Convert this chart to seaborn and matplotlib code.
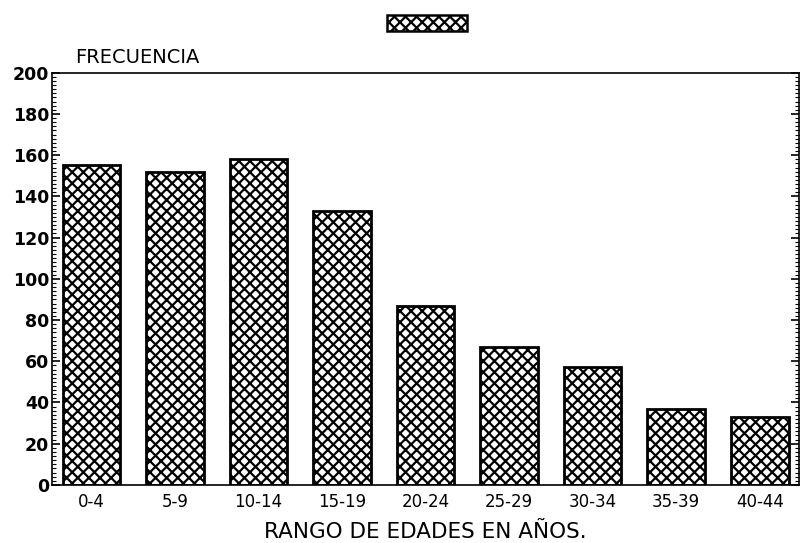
import matplotlib
matplotlib.use("Agg")
import matplotlib.pyplot as plt
import seaborn as sns
import pandas as pd
from matplotlib.patches import Patch
from matplotlib.ticker import MultipleLocator

rangos = ["0-4", "5-9", "10-14", "15-19", "20-24", "25-29", "30-34", "35-39", "40-44"]
frecuencia = [155, 152, 158, 133, 87, 67, 57, 37, 33]

df = pd.DataFrame({"rango": rangos, "frecuencia": frecuencia})

sns.set_style("white")
plt.rcParams["font.family"] = ["DejaVu Sans"]
plt.rcParams["hatch.linewidth"] = 1.6
plt.rcParams["text.color"] = "black"
plt.rcParams["xtick.color"] = "black"
plt.rcParams["ytick.color"] = "black"
plt.rcParams["axes.labelcolor"] = "black"

fig = plt.figure(figsize=(8.01, 5.43), dpi=100)
ax = fig.add_axes([0.065, 0.107, 0.9325, 0.759])

sns.barplot(data=df, x="rango", y="frecuencia", color="white", width=0.69,
            edgecolor="black", linewidth=2.0, hatch="xxx", ax=ax)

ax.set_ylim(0, 200)
ax.set_xlim(-0.47, 8.47)
ax.yaxis.set_major_locator(MultipleLocator(20))
ax.yaxis.set_minor_locator(MultipleLocator(2))
ax.tick_params(axis="y", which="major", direction="in", length=6, width=1.2,
               labelsize=12.5, right=True, left=True, pad=2)
ax.tick_params(axis="y", which="minor", direction="in", length=3, width=0.8,
               right=True, left=True)
ax.tick_params(axis="x", length=0, labelsize=12, pad=6)
for lab in ax.get_yticklabels():
    lab.set_fontweight("bold")

for side in ["left", "right", "bottom", "top"]:
    ax.spines[side].set_linewidth(1.2)
    ax.spines[side].set_color("black")
ax.spines["top"].set_linestyle((0, (20, 1)))

ax.set_ylabel("")
ax.set_xlabel("RANGO DE EDADES EN AÑOS.", fontsize=15.5, labelpad=8)
fig.text(0.094, 0.895, "FRECUENCIA", fontsize=14, ha="left", va="center")

handle = Patch(facecolor="white", edgecolor="black", hatch="xxx", linewidth=1.8)
fig.legend(handles=[handle], labels=[""], loc="center", bbox_to_anchor=(0.533, 0.958),
           frameon=False, handlelength=5.8, handleheight=1.4, handletextpad=0,
           borderpad=0)

fig.savefig("out.png", dpi=100)
